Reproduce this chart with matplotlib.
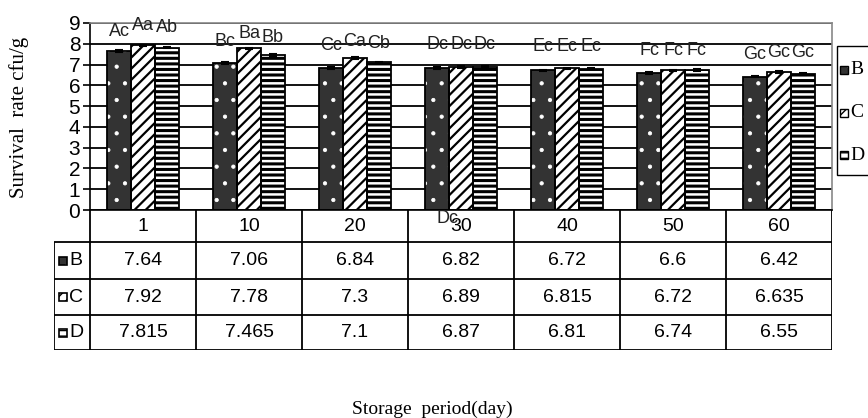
import numpy as np
import matplotlib
matplotlib.use("Agg")
import matplotlib.pyplot as plt
from matplotlib.patches import Rectangle

# data
days = ["1", "10", "20", "30", "40", "50", "60"]
series = ["B", "C", "D"]
val_B = [7.64, 7.06, 6.84, 6.82, 6.72, 6.6, 6.42]
val_C = [7.92, 7.78, 7.3, 6.89, 6.815, 6.72, 6.635]
val_D = [7.815, 7.465, 7.1, 6.87, 6.81, 6.74, 6.55]
txt_B = ["7.64", "7.06", "6.84", "6.82", "6.72", "6.6", "6.42"]
txt_C = ["7.92", "7.78", "7.3", "6.89", "6.815", "6.72", "6.635"]
txt_D = ["7.815", "7.465", "7.1", "6.87", "6.81", "6.74", "6.55"]
err = [0.04, 0.04, 0.04]

letters = [["Ac", "Aa", "Ab"], ["Bc", "Ba", "Bb"], ["Cc", "Ca", "Cb"],
           ["Dc", "Dc", "Dc"], ["Ec", "Ec", "Ec"], ["Fc", "Fc", "Fc"],
           ["Gc", "Gc", "Gc"]]
letter_y = [[8.6, 8.9, 8.8], [8.1, 8.5, 8.3], [7.9, 8.1, 8.0],
            [7.95, 7.95, 7.95], [7.85, 7.85, 7.85], [7.7, 7.7, 7.7],
            [7.5, 7.6, 7.6]]

values = [val_B, val_C, val_D]
texts = [txt_B, txt_C, txt_D]
faces = ["#333333", "white", "white"]
hatches = [".", "///", "---"]
hatch_cols = ["white", "black", "black"]
hatch_lw = [0.6, 1.6, 2.2]

W, H = 868, 418
fig = plt.figure(figsize=(W / 100, H / 100), dpi=100)
sans = "Liberation Sans"
serif = "Liberation Serif"


def swatch(target, x0, y0, w, h, i, lw=1.2, **kw):
    # small pattern square used by the table and the legend
    target.add_artist(Rectangle((x0, y0), w, h, facecolor=faces[i],
                                edgecolor=hatch_cols[i], hatch=hatches[i],
                                linewidth=0, zorder=4, **kw))
    target.add_artist(Rectangle((x0, y0), w, h, facecolor="none",
                                edgecolor="black", linewidth=lw, zorder=5, **kw))


ax = fig.add_axes([90 / W, (H - 210) / H, 742 / W, 187 / H])
x = np.arange(len(days))
bw = 0.226

for i in range(3):
    pos = x + (i - 1) * bw
    bars = ax.bar(pos, values[i], bw, color=faces[i], edgecolor=hatch_cols[i],
                  hatch=hatches[i], linewidth=0, zorder=2)
    for b in bars:
        if hasattr(b, "set_hatch_linewidth"):
            b.set_hatch_linewidth(hatch_lw[i])
    ax.bar(pos, values[i], bw, facecolor="none", edgecolor="black",
           linewidth=1.3, zorder=3)
    ax.errorbar(pos, values[i], yerr=err[i], fmt="none", ecolor="black",
                capsize=3, elinewidth=1, capthick=1.5, zorder=4)
    for g in range(len(days)):
        ax.text(pos[g], letter_y[g][i], letters[g][i], ha="center", va="center",
                fontsize=13, family=sans, color="#222222", zorder=5)

# stray label that sits on the table header in the original
ax.text(2.87, -0.4, "Dc", ha="center", va="center", fontsize=13, family=sans,
        color="#222222", clip_on=False, zorder=6)

ax.set_xlim(-0.5, len(days) - 0.5)
ax.set_ylim(0, 9)
ax.set_yticks(range(10))
ax.set_yticklabels([str(v) for v in range(10)], family=sans, fontsize=15)
ax.set_xticks([])
ax.yaxis.grid(True, color="black", linewidth=1.3, zorder=0)
ax.set_axisbelow(True)
ax.tick_params(axis="y", direction="out", length=5, width=1.2, pad=2)
ax.spines["left"].set_color("black")
ax.spines["bottom"].set_color("black")
ax.spines["top"].set_color("#888888")
ax.spines["right"].set_color("#888888")
for s in ax.spines.values():
    s.set_linewidth(1.2)

fig.text(19 / W, 1 - 117 / H, "Survival  rate cfu/g", rotation=90,
         ha="center", va="center", family=serif, fontsize=15)
fig.text(432 / W, 1 - 409 / H, "Storage  period(day)", ha="center",
         va="center", family=serif, fontsize=14)

# data table under the plot
tax = fig.add_axes([54 / W, (H - 350) / H, 778 / W, 140 / H])
tax.set_xlim(-0.5 - 36 / 106, len(days) - 0.5)
tax.set_ylim(140, 0)
tax.axis("off")
rows = [0, 32, 69, 105, 140]
left = -0.5 - 36 / 106
right = len(days) - 0.5
lw = 1.3
for r in rows[1:]:
    tax.hlines(r, left, right, color="black", linewidth=lw)
tax.vlines(left, rows[1], rows[-1], color="black", linewidth=lw)
for c in np.arange(len(days) + 1) - 0.5:
    tax.vlines(c, rows[0], rows[-1], color="black", linewidth=lw)

for g, d in enumerate(days):
    tax.text(g, (rows[0] + rows[1]) / 2 + 1, d, ha="center", va="center",
             fontsize=14, family=sans)
for i in range(3):
    yc = (rows[i + 1] + rows[i + 2]) / 2
    for g in range(len(days)):
        tax.text(g, yc, texts[i][g], ha="center", va="center",
                 fontsize=14, family=sans)
    swatch(tax, left + 5 / 106, yc - 4, 8 / 106, 8, i)
    tax.text(left + 15 / 106, yc, series[i], ha="left", va="center",
             fontsize=14, family=sans)

# legend box on the right edge, partly cut off as in the original
fig.add_artist(Rectangle((837 / W, 1 - 175 / H), 60 / W, 129 / H,
                         transform=fig.transFigure, facecolor="white",
                         edgecolor="black", linewidth=1, zorder=1))
for i, name in enumerate(series):
    yc = 1 - (70 + 42.5 * i) / H
    swatch(fig, 840 / W, yc - 4 / H, 8 / W, 8 / H, i, lw=1,
           transform=fig.transFigure)
    fig.text(850 / W, yc, name, ha="left", va="center", family=serif,
             fontsize=14, zorder=6)

fig.savefig("out.png", dpi=100)
